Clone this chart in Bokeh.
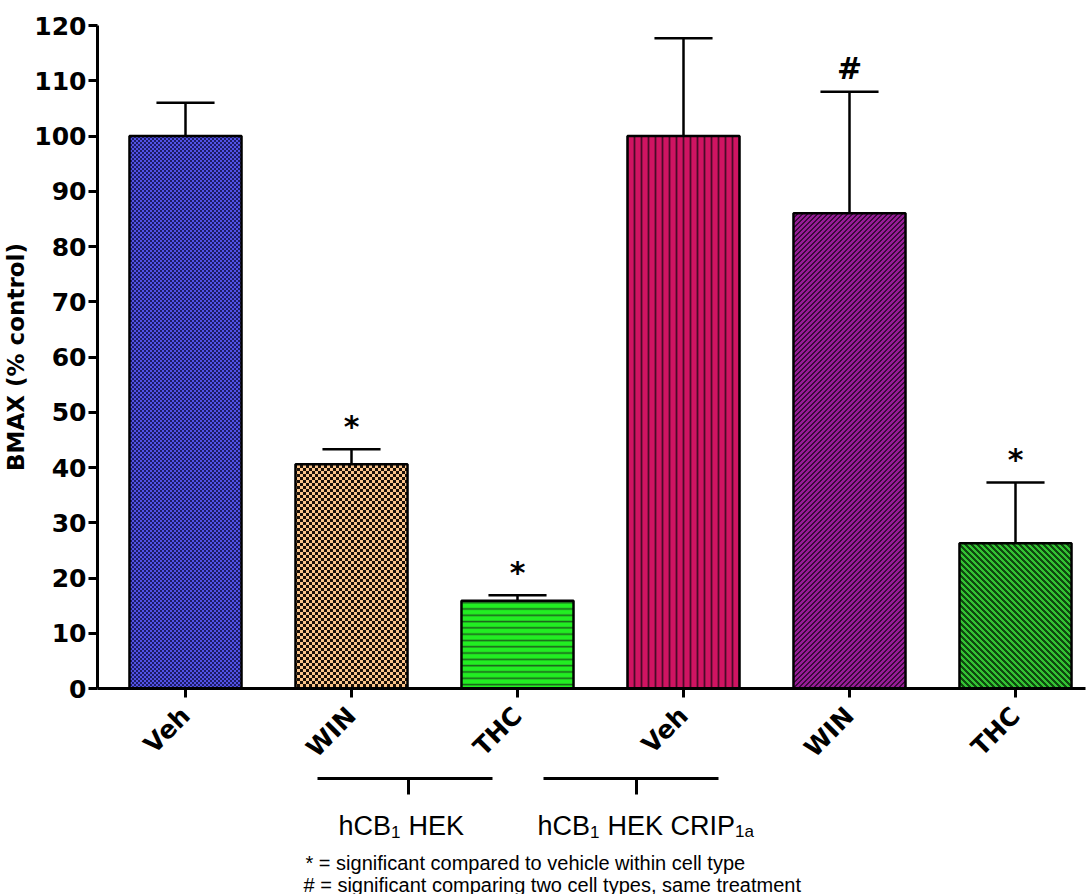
import math, struct, zlib, base64
from bokeh.plotting import figure
from bokeh.layouts import column
from bokeh.models import ColumnDataSource, Range1d, FixedTicker, ImageURLTexture
from bokeh.core.properties import value
from bokeh.embed import file_html
from bokeh.resources import INLINE

# ---------------- data ----------------
treatments = ["Veh", "WIN", "THC", "Veh", "WIN", "THC"]
bmax = [100.0, 40.6, 15.9, 100.0, 86.0, 26.3]
sem = [6.0, 2.7, 1.0, 17.7, 22.0, 11.0]
sig = ["", "*", "*", "", "#", "*"]
y_ticks = [0, 10, 20, 30, 40, 50, 60, 70, 80, 90, 100, 110, 120]
y_title = "BMAX (% control)"
legend_lines = ["* = significant compared to vehicle within cell type",
                "# = significant comparing two cell types, same treatment"]

# ---------------- styles ----------------
fill_colors = ["#4a4ad6", "#f6bb80", "#22ee22", "#d01462", "#861a86", "#2eae2e"]
hatch_patterns = ["blue_checker", "orange_checker", "horizontal_line",
                  "vertical_line", "purple_diag", "green_diag"]
hatch_colors = ["#1c1c66", "#1a1008", "#1c641c", "#4a0a28", "#380838", "#0e3e0e"]
hatch_scales = [4, 6, 6.3, 7, 5, 5.5]
hatch_weights = [1, 1, 1.6, 1.8, 1.6, 1.6]


def _rgb(h):
    h = h.lstrip("#")
    return [int(h[i:i + 2], 16) for i in (0, 2, 4)]


def _png(size, is_dark, c1, c2):
    a, b = _rgb(c1), _rgb(c2)
    rows = []
    for yy in range(size):
        r = []
        for xx in range(size):
            r += b if is_dark(xx, yy) else a
        rows.append(r)
    raw = b"".join(b"\x00" + bytes(r) for r in rows)

    def chunk(t, d):
        c = struct.pack(">I", len(d)) + t + d
        return c + struct.pack(">I", zlib.crc32(t + d) & 0xffffffff)
    data = (b"\x89PNG\r\n\x1a\n" + chunk(b"IHDR", struct.pack(">IIBBBBB", size, size, 8, 2, 0, 0, 0))
            + chunk(b"IDAT", zlib.compress(raw)) + chunk(b"IEND", b""))
    return "data:image/png;base64," + base64.b64encode(data).decode()


def checker(n, c1, c2):
    return _png(2 * n, lambda x, y: ((x // n) + (y // n)) % 2 == 1, c1, c2)


def diag(n, dark_w, c1, c2, rising=True):
    if rising:
        f = lambda x, y: (x + y) % n < dark_w
    else:
        f = lambda x, y: (x - y) % n < dark_w
    return _png(n, f, c1, c2)


textures = {
    "blue_checker": ImageURLTexture(url=checker(2, "#5252e6", "#1c1c66"), repetition="repeat"),
    "orange_checker": ImageURLTexture(url=checker(3, "#fbc48a", "#1a1008"), repetition="repeat"),
    "purple_diag": ImageURLTexture(url=diag(5, 2, "#961c96", "#3a0a3a", True), repetition="repeat"),
    "green_diag": ImageURLTexture(url=diag(6, 3, "#33c233", "#0f4a0f", False), repetition="repeat"),
}

x = list(range(len(bmax)))
tops = [v + e for v, e in zip(bmax, sem)]
src = ColumnDataSource(dict(x=x, val=bmax, top=tops,
                            xl=[i - 0.175 for i in x], xr=[i + 0.175 for i in x],
                            fill=fill_colors, pat=hatch_patterns, hcol=hatch_colors,
                            hs=hatch_scales, hw=hatch_weights, sig=sig))

# ---------------- geometry (page px) ----------------
PAGE_W, PAGE_H = 1087, 894
MAIN_H = 776          # main plot height
FL, FT, FB = 97, 25, 688
SP = 166.0            # px between bar centres
FIRST = 185           # page x of first bar centre

mb_right = 2
frame_w = PAGE_W - FL - mb_right
x_start = -(FIRST - FL) / SP
x_end = x_start + frame_w / SP

p = figure(width=PAGE_W, height=MAIN_H, output_backend="svg", toolbar_location=None,
           x_range=Range1d(x_start, x_end), y_range=Range1d(0, 120),
           min_border_left=FL, min_border_top=FT, min_border_bottom=MAIN_H - FB,
           min_border_right=mb_right)
p.outline_line_color = None
p.xgrid.visible = False
p.ygrid.visible = False

p.vbar(x="x", top="val", width=0.675, source=src, fill_color="fill",
       hatch_pattern="pat", hatch_color="hcol", hatch_scale="hs", hatch_weight="hw",
       hatch_extra=textures, line_color="black", line_width=2.5)
p.segment(x0="x", y0="val", x1="x", y1="top", source=src, line_color="black", line_width=2.5)
p.segment(x0="xl", y0="top", x1="xr", y1="top", source=src, line_color="black", line_width=2.5)
p.text(x="x", y="top", text="sig", source=src, text_align="center", text_baseline="middle",
       y_offset=-23, text_font=value("DejaVu Sans"), text_font_style="bold",
       text_font_size="30px", text_color="black")

for ax in (p.xaxis[0], p.yaxis[0]):
    ax.axis_line_width = 3
    ax.axis_line_color = "black"
    ax.major_tick_line_width = 3
    ax.major_tick_line_color = "black"
    ax.major_tick_out = 9
    ax.major_tick_in = 0
    ax.minor_tick_line_color = None
    ax.major_label_text_font = "DejaVu Sans"
    ax.major_label_text_font_style = "bold"
    ax.major_label_text_font_size = "25px"
    ax.major_label_text_color = "black"

p.yaxis.ticker = FixedTicker(ticks=y_ticks)
p.yaxis.major_label_standoff = 2
p.yaxis.axis_label = y_title
p.yaxis.axis_label_text_font = "DejaVu Sans"
p.yaxis.axis_label_text_font_style = "bold"
p.yaxis.axis_label_text_font_size = "23px"
p.yaxis.axis_label_text_color = "black"
p.yaxis.axis_label_standoff = 2
p.xaxis.ticker = FixedTicker(ticks=x)
p.xaxis.major_label_overrides = {i: t for i, t in zip(x, treatments)}
p.xaxis.major_label_orientation = math.pi / 4
p.xaxis.major_label_standoff = 14

# ---------------- bottom annotations (page coords; frame aligned with main frame) ----------------
bt = figure(width=PAGE_W, height=PAGE_H - MAIN_H, output_backend="svg", toolbar_location=None,
            x_range=Range1d(FL, PAGE_W - mb_right), y_range=Range1d(PAGE_H, MAIN_H),
            x_axis_location=None, y_axis_location=None,
            min_border_left=FL, min_border_right=mb_right,
            min_border_top=0, min_border_bottom=0)
bt.grid.visible = False
bt.outline_line_color = None


def txt(f, s, px, py, size, bold=False, font="Liberation Sans"):
    f.text(x=[px], y=[py], text=[s], text_align="left", text_baseline="alphabetic",
           text_font=value(font), text_font_size=f"{size}px",
           text_font_style="bold" if bold else "normal", text_color="black")


bracket_y = 778
bracket_lines = [(317, 492, 408), (543, 718, 636)]
for (a, b, t) in bracket_lines:
    bt.segment(x0=[a, t], y0=[bracket_y, bracket_y], x1=[b, t], y1=[bracket_y, 794],
               line_width=3, line_color="black")

txt(bt, "hCB", 338, 825, 27)
txt(bt, "1", 390.5, 831, 17)
txt(bt, "HEK", 408, 825, 27)
txt(bt, "hCB", 537, 825, 27)
txt(bt, "1", 589.5, 831, 17)
txt(bt, "HEK CRIP", 607, 825, 27)
txt(bt, "1a", 734.5, 831, 17)

txt(bt, legend_lines[0], 305, 862, 20)
txt(bt, legend_lines[1], 303, 884, 20)

layout = column(p, bt, spacing=0)
open("out.html", "w").write(file_html(layout, INLINE))
